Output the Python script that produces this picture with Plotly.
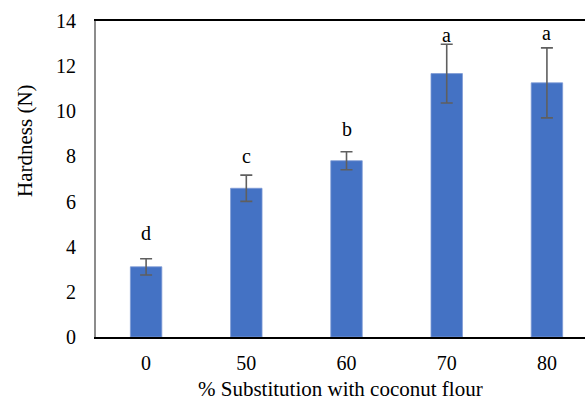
import plotly.graph_objects as go

categories = ["0", "50", "60", "70", "80"]
hardness = [3.11, 6.59, 7.81, 11.67, 11.26]
hardness_sd = [0.36, 0.58, 0.40, 1.30, 1.55]
letters = ["d", "c", "b", "a", "a"]
y_ticks = [0, 2, 4, 6, 8, 10, 12, 14]

FONT = "Liberation Serif"
W, H = 585, 403
L, R, T, B = 96, 0, 21, 66

fig = go.Figure()
fig.add_trace(go.Bar(
    x=list(range(len(categories))), y=hardness,
    width=0.314,
    marker=dict(color="#4472C4", line=dict(color="#7d9bd6", width=0.8)),
    error_y=dict(type="data", array=hardness_sd, visible=True,
                 color="#5f5f5f", thickness=1.6, width=6),
))

label_pad = [0.72, 0.43, 0.6, 0.02, 0.27]
for i, (m, s, t) in enumerate(zip(hardness, hardness_sd, letters)):
    fig.add_annotation(x=i, y=m + s + label_pad[i], text=t, showarrow=False,
                       yanchor="bottom", yshift=-4,
                       font=dict(family=FONT, size=20, color="black"))

fig.add_annotation(xref="paper", yref="paper", x=(340 - L) / (W - L - R),
                   y=(H - B - 389) / (H - T - B), text="% Substitution with coconut flour",
                   showarrow=False, xanchor="center", yanchor="middle",
                   font=dict(family=FONT, size=21, color="black"))
fig.add_annotation(xref="paper", yref="paper", x=(25 - L) / (W - L - R),
                   y=(H - B - 141) / (H - T - B), text="Hardness (N)", textangle=-90,
                   showarrow=False, xanchor="center", yanchor="middle",
                   font=dict(family=FONT, size=21, color="black"))

fig.update_layout(
    width=W, height=H, margin=dict(l=L, r=R, t=T, b=B),
    plot_bgcolor="white", paper_bgcolor="white", showlegend=False,
    font=dict(family=FONT, size=20, color="black"),
    xaxis=dict(tickmode="array", tickvals=list(range(len(categories))),
               ticktext=categories, range=[-0.5, 4.38],
               showline=True, linecolor="black", linewidth=2, mirror=True,
               ticks="", showgrid=False, zeroline=False, ticklabelstandoff=7),
    yaxis=dict(range=[0, 14], tickvals=y_ticks, showline=True, linecolor="#8c8c8c",
               linewidth=2, ticks="", showgrid=False, zeroline=False,
               ticklabelstandoff=14),
)

fig.write_html("out.html", config={"displayModeBar": False},
               post_script="document.body.style.margin='0';")
